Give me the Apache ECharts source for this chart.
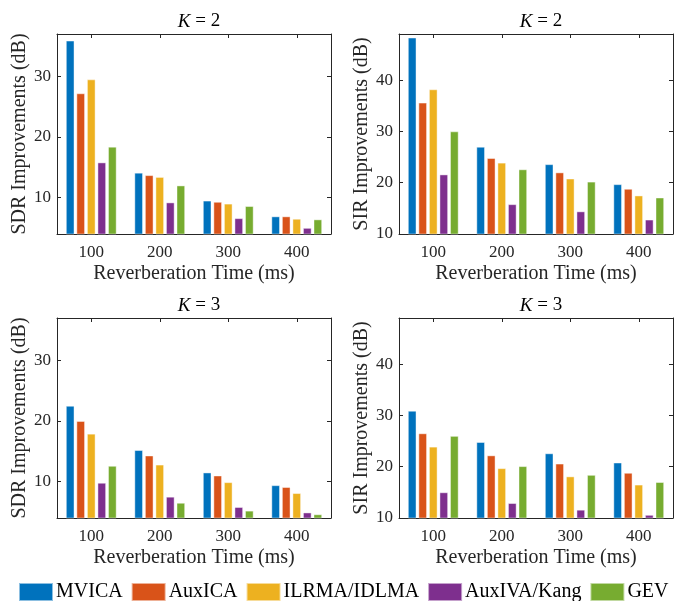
<!DOCTYPE html>
<html>
<head>
<meta charset="utf-8">
<script src="https://cdn.jsdelivr.net/npm/echarts@6/dist/echarts.min.js"></script>
<style>
html,body{margin:0;padding:0;background:#fff;}
#chart{width:674px;height:601px;}
</style>
</head>
<body>
<div id="chart"></div>
<script>
// reverberation times (ms) and methods
var cats = ["100","200","300","400"];
var methods = ["MVICA","AuxICA","ILRMA/IDLMA","AuxIVA/Kang","GEV"];
var colors = ["#0072BD","#D95319","#EDB120","#7E2F8E","#77AC30"];

// SDR improvements, K=2 (one row per method)
var sdrK2 = [
  [35.9, 14.1, 9.5, 6.9],
  [27.2, 13.7, 9.3, 6.9],
  [29.5, 13.4, 9.0, 6.5],
  [15.8, 9.2, 6.6, 5.0],
  [18.4, 12.0, 8.6, 6.4]
];
// SIR improvements, K=2
var sirK2 = [
  [48.3, 27.0, 23.6, 19.7],
  [35.6, 24.8, 22.0, 18.8],
  [38.2, 23.9, 20.8, 17.5],
  [21.6, 15.8, 14.4, 12.8],
  [30.0, 22.6, 20.2, 17.1]
];
// SDR improvements, K=3
var sdrK3 = [
  [22.5, 15.2, 11.5, 9.4],
  [20.0, 14.3, 11.0, 9.1],
  [17.9, 12.8, 9.9, 8.1],
  [9.8, 7.5, 5.8, 4.9],
  [12.6, 6.5, 5.2, 4.6]
];
// SIR improvements, K=3
var sirK3 = [
  [30.9, 24.8, 22.6, 20.8],
  [26.5, 22.2, 20.6, 18.8],
  [23.9, 19.7, 18.1, 16.5],
  [15.0, 12.9, 11.6, 10.6],
  [26.0, 20.1, 18.4, 17.0]
];

var sdrTicks = [10, 20, 30];
var sirTicks = [10, 20, 30, 40];

var FONT = "Liberation Serif";
var INK = "#262626";

var panels = [
  {k:"2", data:sdrK2, yName:"SDR Improvements (dB)", min:4, max:37, ticks:sdrTicks, left:57, top:34},
  {k:"2", data:sirK2, yName:"SIR Improvements (dB)", min:10, max:49, ticks:sirTicks, left:399, top:34},
  {k:"3", data:sdrK3, yName:"SDR Improvements (dB)", min:4, max:37, ticks:sdrTicks, left:57, top:318},
  {k:"3", data:sirK3, yName:"SIR Improvements (dB)", min:10, max:49, ticks:sirTicks, left:399, top:318}
];
var W = 274, H = 200;

var grids = [], xAxes = [], yAxes = [], series = [], titles = [];
var line = {show:true, lineStyle:{color:INK, width:1}};

panels.forEach(function(p, i){
  grids.push({left:p.left, top:p.top, width:W, height:H, containLabel:false});
  titles.push({
    text:"{i|K} = "+p.k, left:p.left+W/2, top:p.top-27, textAlign:"center",
    textStyle:{fontFamily:FONT, fontSize:19, fontWeight:"normal", color:"#000",
      rich:{i:{fontFamily:FONT, fontSize:19, fontStyle:"italic", color:"#000"}}}
  });
  // bottom x axis
  xAxes.push({
    type:"category", gridIndex:i, data:cats, position:"bottom", boundaryGap:true,
    axisLine:line,
    axisTick:{show:true, inside:true, alignWithLabel:true, length:4, lineStyle:{color:INK}},
    axisLabel:{color:INK, fontFamily:FONT, fontSize:17, margin:10},
    splitLine:{show:false},
    name:"Reverberation Time (ms)", nameLocation:"middle", nameGap:30,
    nameTextStyle:{color:INK, fontFamily:FONT, fontSize:20}
  });
  // top x axis (box)
  xAxes.push({
    type:"category", gridIndex:i, data:cats, position:"top", boundaryGap:true,
    axisLine:line,
    axisTick:{show:true, inside:true, alignWithLabel:true, length:4, lineStyle:{color:INK}},
    axisLabel:{show:false}, splitLine:{show:false}
  });
  // left y axis
  yAxes.push({
    type:"value", gridIndex:i, position:"left", min:p.min, max:p.max,
    axisLine:line,
    axisTick:{show:true, inside:true, length:4, customValues:p.ticks, lineStyle:{color:INK}},
    axisLabel:{color:INK, fontFamily:FONT, fontSize:17, margin:6, customValues:p.ticks},
    splitLine:{show:false},
    name:p.yName, nameLocation:"middle", nameGap:27,
    nameTextStyle:{color:INK, fontFamily:FONT, fontSize:20}
  });
  // right y axis (box)
  yAxes.push({
    type:"value", gridIndex:i, position:"right", min:p.min, max:p.max,
    axisLine:line,
    axisTick:{show:true, inside:true, length:4, customValues:p.ticks, lineStyle:{color:INK}},
    axisLabel:{show:false}, splitLine:{show:false}
  });
  methods.forEach(function(m, j){
    series.push({
      type:"bar", name:m, xAxisIndex:i*2, yAxisIndex:i*2,
      data:p.data[j], barWidth:8.5, barGap:"24%",
      itemStyle:{color:colors[j], borderColor:"rgba(255,255,255,0.55)", borderWidth:0.8},
      emphasis:{disabled:true}
    });
  });
});

var ch = echarts.init(document.getElementById("chart"), null, {renderer:"canvas"});
ch.setOption({
  animation:false,
  backgroundColor:"#fff",
  title:titles,
  grid:grids,
  xAxis:xAxes,
  yAxis:yAxes,
  legend:{
    data:methods, left:13, top:577, itemWidth:34, itemHeight:18, itemGap:8,
    icon:"rect",
    textStyle:{color:"#000", fontFamily:FONT, fontSize:20, padding:[0,0,0,-2]}
  },
  series:series
});
</script>
</body>
</html>
